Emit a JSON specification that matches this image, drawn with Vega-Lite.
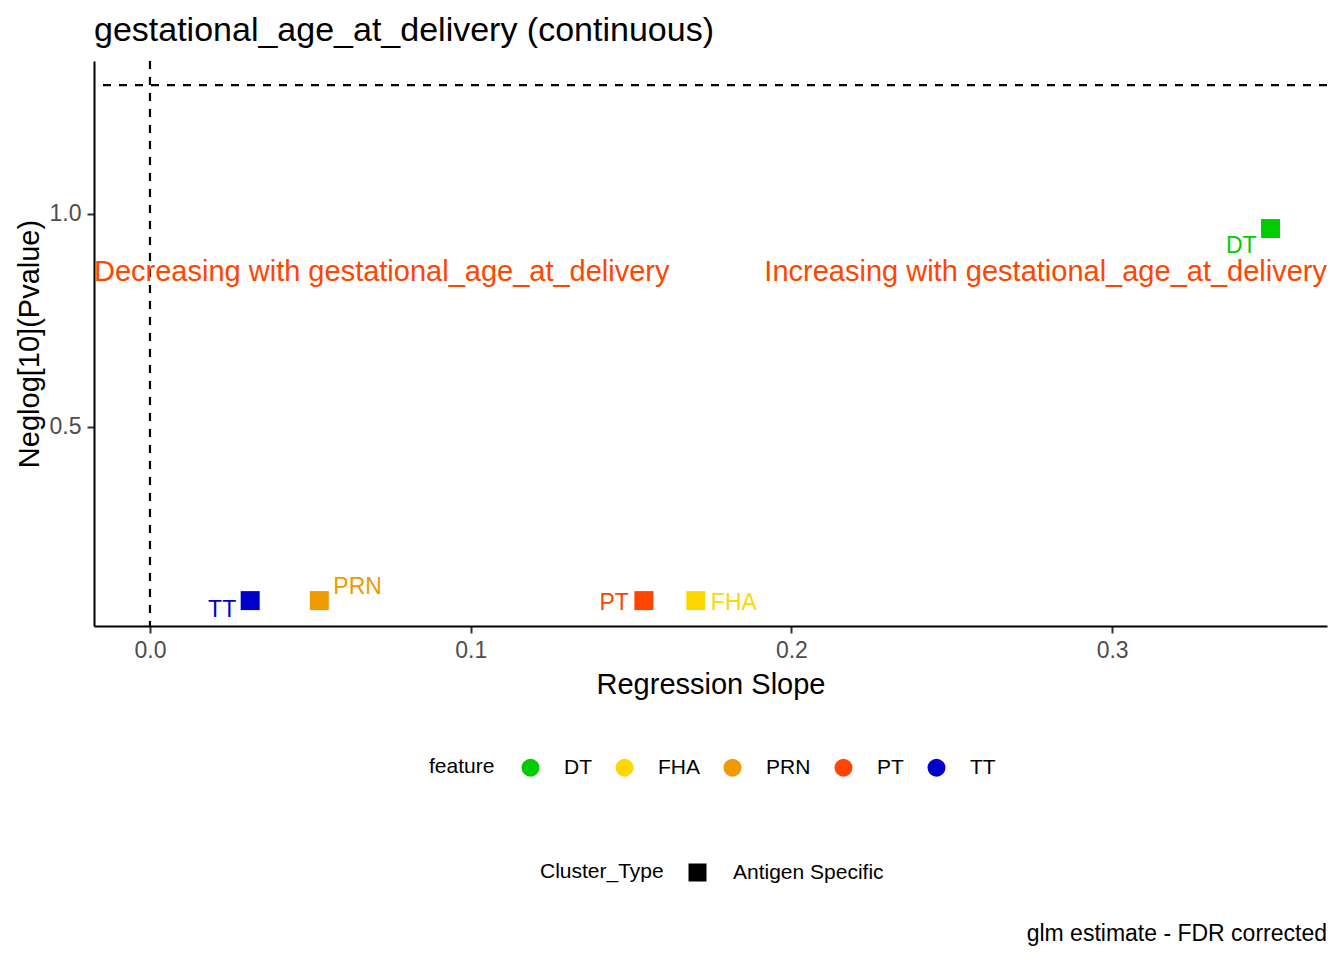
{
  "$schema": "https://vega.github.io/schema/vega-lite/v6.json",
  "background": "white",
  "padding": {"left": 15, "top": 13, "right": 15, "bottom": 10},
  "spacing": 223,
  "config": {
    "font": "Liberation Sans",
    "view": {"stroke": null},
    "axis": {
      "grid": false,
      "domainColor": "black",
      "domainWidth": 2,
      "tickColor": "#333333",
      "tickWidth": 2,
      "tickSize": 7,
      "labelColor": "#4D4D4D",
      "labelFontSize": 23,
      "labelPadding": 6,
      "titleFontSize": 29,
      "titleFontWeight": "normal",
      "titleColor": "black"
    },
    "legend": {
      "orient": "none",
      "direction": "horizontal",
      "titleOrient": "left",
      "titleFontSize": 21,
      "titleFontWeight": "normal",
      "titleColor": "black",
      "labelFontSize": 21,
      "labelColor": "black",
      "symbolSize": 324,
      "labelOffset": 23,
      "columnPadding": 22,
      "titlePadding": 25,
      "padding": 0
    }
  },
  "vconcat": [
    {
      "title": {
        "text": "gestational_age_at_delivery (continuous)",
        "anchor": "start",
        "frame": "group",
        "fontSize": 34,
        "fontWeight": "normal",
        "color": "black",
        "offset": 12
      },
      "width": 1233,
      "height": 565,
      "data": {
        "values": [
          {"feature": "DT", "Cluster_Type": "Antigen Specific", "slope": 0.3494, "neglogp": 0.965},
          {"feature": "FHA", "Cluster_Type": "Antigen Specific", "slope": 0.1702, "neglogp": 0.0932},
          {"feature": "PRN", "Cluster_Type": "Antigen Specific", "slope": 0.0528, "neglogp": 0.0932},
          {"feature": "PT", "Cluster_Type": "Antigen Specific", "slope": 0.154, "neglogp": 0.0932},
          {"feature": "TT", "Cluster_Type": "Antigen Specific", "slope": 0.03125, "neglogp": 0.0932}
        ]
      },
      "layer": [
        {
          "data": {"values": [{"neglogp": 1.30103}]},
          "mark": {"type": "rule", "color": "black", "strokeWidth": 2.2, "strokeDash": [8, 8]},
          "encoding": {"y": {"field": "neglogp", "type": "quantitative"}}
        },
        {
          "data": {"values": [{"slope": 0}]},
          "mark": {"type": "rule", "color": "black", "strokeWidth": 2.2, "strokeDash": [8, 8]},
          "encoding": {"x": {"field": "slope", "type": "quantitative"}}
        },
        {
          "data": {"values": [{"label": "Decreasing with gestational_age_at_delivery"}]},
          "mark": {"type": "text", "align": "left", "baseline": "alphabetic", "fontSize": 29, "color": "#FF4500"},
          "encoding": {
            "x": {"datum": -0.01745},
            "y": {"datum": 0.8414},
            "text": {"field": "label"}
          }
        },
        {
          "data": {"values": [{"label": "Increasing with gestational_age_at_delivery"}]},
          "mark": {"type": "text", "align": "right", "baseline": "alphabetic", "fontSize": 29, "color": "#FF4500"},
          "encoding": {
            "x": {"datum": 0.367},
            "y": {"datum": 0.8414},
            "text": {"field": "label"}
          }
        },
        {
          "mark": {"type": "point", "filled": true, "size": 361, "opacity": 1, "strokeWidth": 0},
          "encoding": {
            "x": {
              "field": "slope",
              "type": "quantitative",
              "title": "Regression Slope",
              "scale": {"domain": [-0.01745, 0.367], "nice": false, "zero": false},
              "axis": {"values": [0, 0.1, 0.2, 0.3], "format": ".1f", "titlePadding": 8}
            },
            "y": {
              "field": "neglogp",
              "type": "quantitative",
              "title": "Neglog[10](Pvalue)",
              "scale": {"domain": [0.0337, 1.3576], "nice": false, "zero": false},
              "axis": {"values": [0.5, 1.0], "format": ".1f", "titlePadding": 5}
            },
            "color": {
              "field": "feature",
              "type": "nominal",
              "title": "feature",
              "scale": {
                "domain": ["DT", "FHA", "PRN", "PT", "TT"],
                "range": ["#00CD00", "#FFD700", "#EE9A00", "#FF4500", "#0000CD"]
              },
              "legend": {"symbolType": "circle", "legendX": 335, "legendY": 696}
            },
            "shape": {
              "field": "Cluster_Type",
              "type": "nominal",
              "title": "Cluster_Type",
              "scale": {"domain": ["Antigen Specific"], "range": ["square"]},
              "legend": {
                "legendX": 446,
                "legendY": 801,
                "symbolFillColor": "black",
                "symbolStrokeWidth": 0,
                "labelOffset": 25,
                "titlePadding": 23
              }
            }
          }
        },
        {
          "transform": [{"filter": "datum.feature == 'DT'"}],
          "mark": {"type": "text", "align": "right", "baseline": "alphabetic", "fontSize": 23, "dx": -14, "dy": 24},
          "encoding": {
            "x": {"field": "slope", "type": "quantitative"},
            "y": {"field": "neglogp", "type": "quantitative"},
            "text": {"field": "feature"},
            "color": {"field": "feature", "type": "nominal"}
          }
        },
        {
          "transform": [{"filter": "datum.feature == 'TT'"}],
          "mark": {"type": "text", "align": "right", "baseline": "alphabetic", "fontSize": 23, "dx": -14, "dy": 16},
          "encoding": {
            "x": {"field": "slope", "type": "quantitative"},
            "y": {"field": "neglogp", "type": "quantitative"},
            "text": {"field": "feature"},
            "color": {"field": "feature", "type": "nominal"}
          }
        },
        {
          "transform": [{"filter": "datum.feature == 'PT'"}],
          "mark": {"type": "text", "align": "right", "baseline": "alphabetic", "fontSize": 23, "dx": -15, "dy": 9},
          "encoding": {
            "x": {"field": "slope", "type": "quantitative"},
            "y": {"field": "neglogp", "type": "quantitative"},
            "text": {"field": "feature"},
            "color": {"field": "feature", "type": "nominal"}
          }
        },
        {
          "transform": [{"filter": "datum.feature == 'PRN'"}],
          "mark": {"type": "text", "align": "left", "baseline": "alphabetic", "fontSize": 23, "dx": 14, "dy": -7},
          "encoding": {
            "x": {"field": "slope", "type": "quantitative"},
            "y": {"field": "neglogp", "type": "quantitative"},
            "text": {"field": "feature"},
            "color": {"field": "feature", "type": "nominal"}
          }
        },
        {
          "transform": [{"filter": "datum.feature == 'FHA'"}],
          "mark": {"type": "text", "align": "left", "baseline": "alphabetic", "fontSize": 23, "dx": 15, "dy": 9},
          "encoding": {
            "x": {"field": "slope", "type": "quantitative"},
            "y": {"field": "neglogp", "type": "quantitative"},
            "text": {"field": "feature"},
            "color": {"field": "feature", "type": "nominal"}
          }
        }
      ]
    },
    {
      "width": 1233,
      "height": 1,
      "data": {"values": []},
      "mark": "point",
      "title": {
        "text": "glm estimate - FDR corrected",
        "orient": "bottom",
        "anchor": "end",
        "frame": "group",
        "fontSize": 23,
        "fontWeight": "normal",
        "color": "black",
        "offset": 0
      }
    }
  ]
}
